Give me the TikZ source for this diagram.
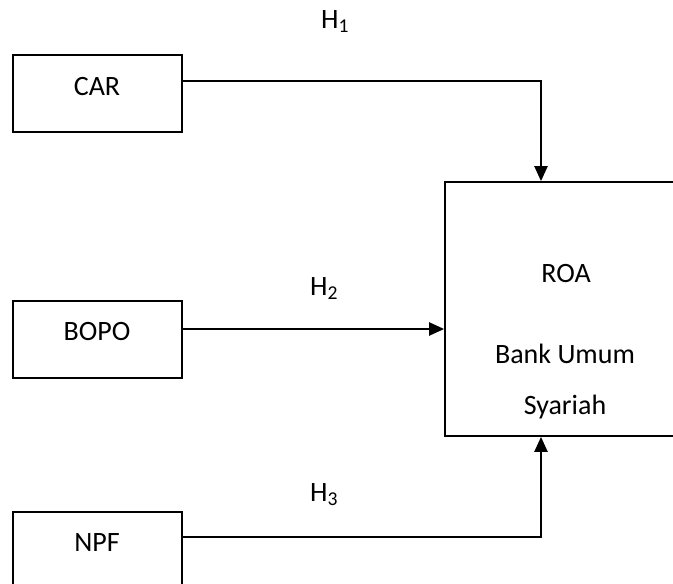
\documentclass[tikz,border=0pt]{standalone}
\usepackage{fontspec}
\setmainfont{Carlito}
\usetikzlibrary{arrows.meta}
\tikzset{
  boxnode/.style={draw, line width=1.7pt, inner sep=0pt, minimum width=169pt, minimum height=77pt},
  txt/.style={anchor=base, inner sep=0pt, font=\fontsize{28}{34}\selectfont},
  conn/.style={line width=2.2pt, -{Triangle[width=13pt,length=15pt]}}
}
\begin{document}
\begin{tikzpicture}[x=1pt,y=-1pt]
\useasboundingbox (0,0) rectangle (673,584);
\node[boxnode] (car) at (97.5,93.5) {};
\node[boxnode] (bopo) at (97.5,339.5) {};
\node[boxnode] (npf) at (97.5,550.5) {};
\node[boxnode, minimum width=240pt, minimum height=254pt] (roa) at (565,309) {};

\node[txt] (tcar) at (97,95) {CAR};
\node[txt] (tbopo) at (97,340) {BOPO};
\node[txt] (tnpf) at (97,551) {NPF};
\node[txt] (troa) at (566,282) {ROA};
\node[txt] (tbank) at (565,363) {Bank Umum};
\node[txt] (tsya) at (565,414) {Syariah};
\node[txt] (h1) at (335,28) {H\textsubscript{1}};
\node[txt] (h2) at (324,295) {H\textsubscript{2}};
\node[txt] (h3) at (324,501) {H\textsubscript{3}};

\coordinate (c1) at ([yshift=12.5pt]car.east);
\coordinate (b1) at ([yshift=10.5pt]bopo.east);
\coordinate (n1) at ([yshift=13.5pt]npf.east);
\coordinate (rtop) at ([xshift=-24pt]roa.north);
\coordinate (rbot) at ([xshift=-24pt]roa.south);
\draw[conn] (c1) -| (rtop);
\draw[conn] (b1) -- (b1 -| roa.west);
\draw[conn] (n1) -| (rbot);
\end{tikzpicture}
\end{document}
